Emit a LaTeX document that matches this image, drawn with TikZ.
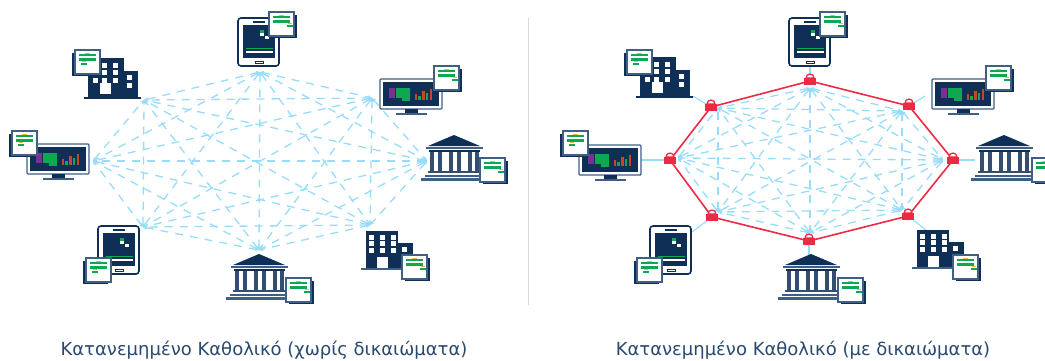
\documentclass[tikz,border=0pt]{standalone}
\usepackage{fontspec}
\setmainfont{DejaVu Sans}
\usetikzlibrary{arrows.meta}

\definecolor{navy}{HTML}{0F2F57}
\definecolor{edgeblue}{HTML}{3F5F85}
\definecolor{hublink}{HTML}{97DCF8}
\definecolor{lockred}{HTML}{EC2A44}
\definecolor{docgreen}{HTML}{0EA850}
\definecolor{docyellow}{HTML}{F7B733}
\definecolor{barred}{HTML}{C8452B}
\definecolor{chartpurple}{HTML}{7E2F93}

\tikzset{
    hublinkline/.style={draw=hublink, line width=1.3pt, dash pattern=on 8pt off 7pt, {Stealth[length=4pt,width=4pt]}-{Stealth[length=4pt,width=4pt]}},
    spokeline/.style={draw=hublink, line width=1.1pt},
    lockline/.style={draw=lockred, line width=1.6pt, line join=round},
    captiontext/.style={text=edgeblue!55!navy, font=\fontsize{18}{21}\selectfont, inner sep=0pt},
    pics/doc/.style={code={
        \fill[navy] (#1,2.5) rectangle (#1+25,26);
        \draw[draw=edgeblue, fill=white, line width=1.2pt] (0,0) rectangle (25,24);
        \fill[docgreen] (4,3.5) rectangle (21,6);
        \fill[docgreen] (4,8) rectangle (21,10.5);
        \fill[docyellow] (10,2.7) rectangle (15,4);
        \fill[docyellow] ({12.5+#1*2},10.5) rectangle ({16.5+#1*2},12.3);
        \fill[docgreen] ({12+#1*2},12.5) rectangle ({17.5+#1*2},14.5);
    }},
    pics/tablet/.style={code={
        \draw[draw=navy, fill=white, line width=1.6pt, rounded corners=3pt] (0,0) rectangle (41,48);
        \fill[navy] (5,7) rectangle (37,40);
        \fill[navy] (15,3) rectangle (27,5);
        \draw[navy, line width=1pt] (17,43) rectangle (25,45);
        \fill[docgreen] (8,29.5) rectangle (35,31);
        \fill[white] (8,33) rectangle (35,34.5);
        \fill[docgreen] (22,12) rectangle (26,16);
        \fill[white] (22,15) rectangle (26,18);
        \fill[white] (27,18) rectangle (31,21);
    }},
    pics/monitor/.style={code={
        \draw[draw=edgeblue, fill=white, line width=1.4pt, rounded corners=1pt] (0,0) rectangle (62,30);
        \fill[navy] (3,3) rectangle (59,27);
        \fill[chartpurple] (9,9) rectangle (15,19);
        \fill[docgreen] (16,9) rectangle (30,19);
        \fill[docgreen] (22,19) rectangle (30,22);
        \fill[barred] (35,15) rectangle (37,21);
        \fill[docgreen] (38,17) rectangle (41,21);
        \fill[barred] (42,12) rectangle (45,21);
        \fill[docgreen] (46,14) rectangle (48,21);
        \fill[barred] (50,10) rectangle (52,21);
        \fill[navy] (25,30) rectangle (38,34);
        \fill[edgeblue] (16,34) rectangle (47,36);
    }},
    pics/bank/.style={code={
        \fill[navy] (7,11) -- (33,0) -- (59,11) -- cycle;
        \fill[edgeblue] (5,12) rectangle (62,13.5);
        \fill[navy] (8,14.5) rectangle (59,17);
        \foreach \c in {9,17,28,36,47,54}
            \fill[navy!85!white] (\c,17) rectangle (\c+3.8,36);
        \fill[navy!85!white] (7,36) rectangle (60,38);
        \fill[edgeblue] (4,39.5) rectangle (62,41.5);
        \fill[edgeblue] (0,43) rectangle (66,45.5);
    }},
    pics/officeone/.style={code={
        \fill[navy] (0,-39) rectangle (36,0);
        \fill[navy] (36,-26) rectangle (50,0);
        \fill[navy] (-4,0) rectangle (53,1.5);
        \fill[white] (12,-14) rectangle (23,-3);
        \foreach \x in {14,25} \foreach \y in {-34,-27,-19}
            \fill[white] (\x,\y) rectangle (\x+5,\y+5);
        \fill[white] (5,-19) rectangle (10,-14);
        \foreach \y in {-22,-14}
            \fill[white] (39,\y) rectangle (44,\y+5);
    }},
    pics/officetwo/.style={code={
        \fill[navy] (0,-37) rectangle (32,0);
        \fill[navy] (32,-25) rectangle (47,0);
        \fill[edgeblue] (-5,0) rectangle (35,1.5);
        \fill[white] (11,-11) rectangle (22,0);
        \foreach \x in {3,14,25} \foreach \y in {-33,-27,-20}
            \fill[white] (\x,\y) rectangle (\x+5,\y+5);
        \fill[white] (36,-21) rectangle (41,-16);
    }},
    pics/padlock/.style={code={
        \draw[lockred, line width=1.3pt, fill=white] (-4,-3) arc[start angle=180, end angle=360, radius=4] -- cycle;
        \fill[lockred] (-6,-3) rectangle (6,4);
    }}
}

\begin{document}
\begin{tikzpicture}[x=1pt, y=-1pt]
    \clip (0,0) rectangle (1045,360);

    % without permissions
    \foreach \n/\x/\y in {1/260/72,2/372/98,3/427/161,4/370/225,5/259/250,6/143/227,7/93/161,8/144/100}
        \coordinate (left\n) at (\x,\y);
    \foreach \i in {1,...,8} \foreach \j in {1,...,8} {
        \ifnum\i<\j \draw[hublinkline] (left\i) -- (left\j); \fi
    }
    \pic at (238,18) {tablet};
    \pic at (269,12) {doc=3};
    \pic at (88,97) {officeone};
    \pic at (75,50) {doc=-3};
    \pic at (380,79) {monitor};
    \pic at (434,66) {doc=3};
    \pic at (27,144) {monitor};
    \pic at (12,131) {doc=-3};
    \pic at (421,135) {bank};
    \pic at (480,158) {doc=3};
    \pic at (98,226) {tablet};
    \pic at (86,258) {doc=-3};
    \pic at (226,254) {bank};
    \pic at (286,278) {doc=3};
    \pic at (366,268) {officetwo};
    \pic at (402,255) {doc=3};

    % divider
    \draw[black!15, line width=1pt] (528,18) -- (528,305);

    % with permissions
    \foreach \n/\x/\y in {1/810/88,2/902/111,3/943/160,4/902/210,5/810/233,6/718/212,7/678/158,8/718/108}
        \coordinate (right\n) at (\x,\y);
    \foreach \n/\x/\y in {1/810/81,2/909/106,3/953/160,4/908/216,5/809/241,6/712/217,7/670/160,8/711/107}
        \coordinate (lock\n) at (\x,\y);
    \foreach \n/\x/\y in {1/810/66,2/925/96,3/975/160,4/926/230,5/809/255,6/692/232,7/640/160,8/693/96}
        \coordinate (dev\n) at (\x,\y);
    \foreach \i in {1,...,8} \foreach \j in {1,...,8} {
        \ifnum\i<\j \draw[hublinkline] (right\i) -- (right\j); \fi
    }
    \foreach \i in {1,...,8} \draw[spokeline] (lock\i) -- (dev\i);
    \draw[lockline] (lock1) -- (lock2) -- (lock3) -- (lock4) -- (lock5) -- (lock6) -- (lock7) -- (lock8) -- cycle;
    \foreach \i in {1,...,8} \pic at (lock\i) {padlock};
    \pic at (789,18) {tablet};
    \pic at (820,12) {doc=3};
    \pic at (640,96) {officeone};
    \pic at (627,50) {doc=-3};
    \pic at (932,79) {monitor};
    \pic at (986,66) {doc=3};
    \pic at (579,145) {monitor};
    \pic at (563,131) {doc=-3};
    \pic at (971,135) {bank};
    \pic at (1032,158) {doc=3};
    \pic at (650,226) {tablet};
    \pic at (637,258) {doc=-3};
    \pic at (778,254) {bank};
    \pic at (838,278) {doc=3};
    \pic at (917,267) {officetwo};
    \pic at (953,255) {doc=3};

    \node[captiontext] (capleft) at (264,350) {Κατανεμημένο Καθολικό (χωρίς δικαιώματα)};
    \node[captiontext] (capright) at (803,350) {Κατανεμημένο Καθολικό (με δικαιώματα)};
\end{tikzpicture}
\end{document}
